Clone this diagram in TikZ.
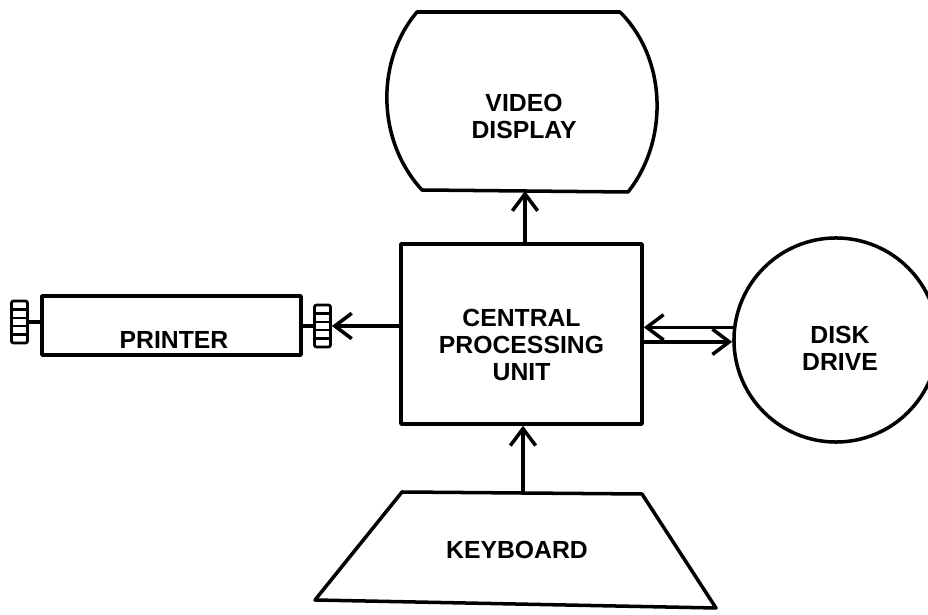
\documentclass[tikz,border=0pt]{standalone}
\usepackage{fontspec}
\setmainfont{Liberation Sans}
\usetikzlibrary{arrows.meta}
\tikzset{
  unit/.style={draw, line width=2.5pt, inner sep=0pt},
  knob/.style={draw, line width=2pt, rounded corners=1.5pt, inner sep=0pt,
    minimum width=.4cm, minimum height=1.05cm,
    path picture={\foreach \k in {1,...,4}
      \draw[line width=1.8pt] ([yshift=-\k*2.1mm]path picture bounding box.north west) -- ([yshift=-\k*2.1mm]path picture bounding box.north east);}},
  lbl/.style={font=\fontsize{17.6}{19.2}\selectfont\bfseries, align=center, inner sep=0pt},
  flow/.style={line width=2.5pt, -{Straight Barb[length=12pt,width=18pt]}},
}

\begin{document}
\begin{tikzpicture}[x=0.025cm,y=-0.025cm,line width=2.5pt,line join=round]
\path[use as bounding box] (0,0) rectangle (928,615);
% video display
\draw (417,12) -- (620,12) .. controls (668,60) and (668,142) .. (628,192) -- (422,190) .. controls (376,140) and (376,60) .. cycle;
\node[lbl] (vidText) at (524,116) {VIDEO\\DISPLAY};
\coordinate (vidBase) at (525,191);
% central processing unit
\node[unit, minimum width=6.025cm, minimum height=4.5cm] (cpu) at (521.5,334) {};
\node[lbl] (cpuText) at (521.5,345) {CENTRAL\\PROCESSING\\UNIT};
% printer and its two knobs
\node[unit, minimum width=6.475cm, minimum height=1.475cm] (prn) at (171.5,325.5) {};
\node[lbl] (prnText) at (174,340) {PRINTER};
\node[knob] (knobL) at (19.5,322) {};
\node[knob] (knobR) at (322.5,326) {};
\draw (knobL.east) -- (knobL.east -| prn.west);
\draw (knobR.west -| prn.east) -- (knobR.west);
% disk drive
\node[unit, circle, minimum size=5.1cm] (disk) at (836,340) {};
\node[lbl] (diskText) at (840,348) {DISK\\DRIVE};
% keyboard
\draw (402,492) -- (642,494) -- (716,608) -- (315,600) -- cycle;
\node[lbl] (kbdText) at (517,550) {KEYBOARD};
\coordinate (kbdTop) at (523,493);
% connections
\draw[flow] (cpu.north -| vidBase) -- (vidBase);
\draw[flow] (cpu.west |- knobR.east) -- (knobR.east);
\draw[flow] (disk.173) -- (disk.173 -| cpu.east);
\draw[flow] (disk.181 -| cpu.east) -- (disk.181);
\draw[flow] (kbdTop) -- (kbdTop |- cpu.south);
\end{tikzpicture}
\end{document}
